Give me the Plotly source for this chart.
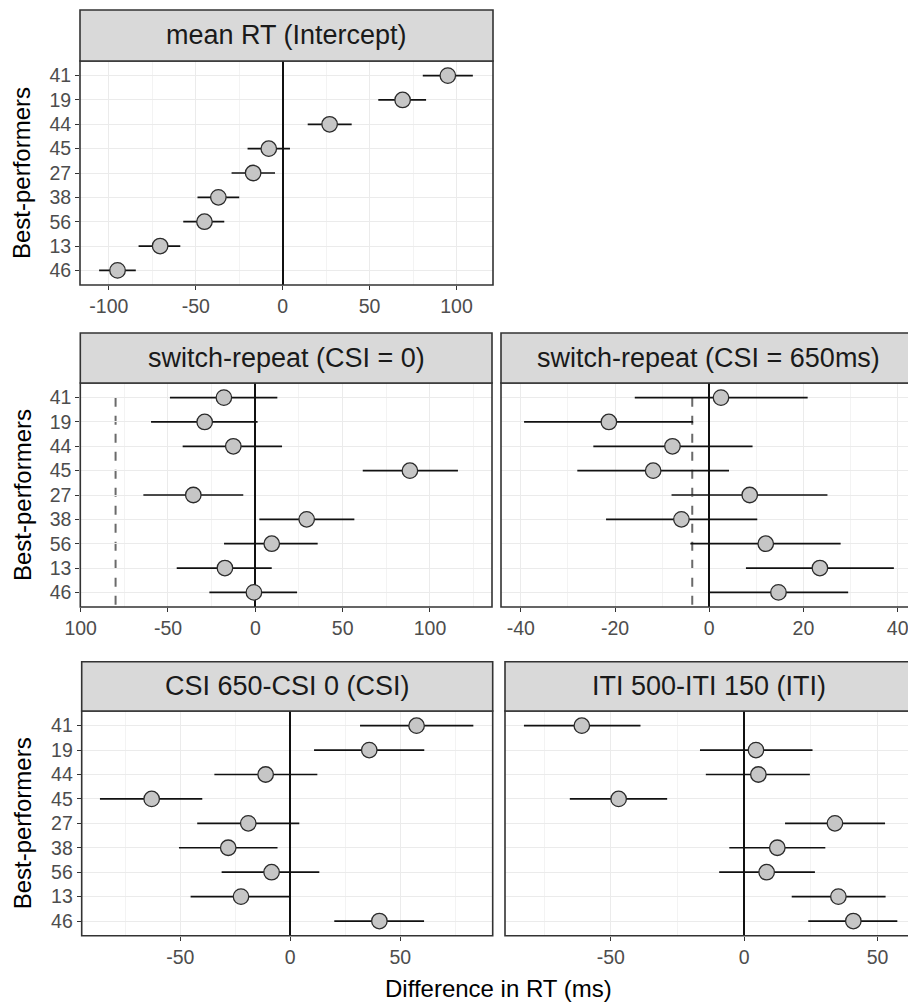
import math
import plotly.graph_objects as go

# ---------------- data ----------------
participants = ["41", "19", "44", "45", "27", "38", "56", "13", "46"]

mean_rt_est = [95, 69, 27, -8, -17, -37, -45, -70.5, -95]
mean_rt_lo = [80.6, 55, 14.4, -20.2, -29.4, -49, -57.2, -82.9, -105.6]
mean_rt_hi = [109.4, 82.5, 39.7, 4.2, -4.4, -25, -33.6, -58.9, -84.5]

sr0_est = [-18, -29, -12.6, 88.5, -35.5, 29.4, 9.4, -17.4, -0.8]
sr0_lo = [-48.9, -59.7, -41.6, 61.5, -64.1, 2.3, -17.9, -45, -26.3]
sr0_hi = [12.6, 1.3, 15.3, 116, -6.9, 56.7, 35.7, 9.4, 23.9]
sr0_ref = -80

sr650_est = [2.5, -21.3, -7.8, -11.9, 8.6, -5.9, 12, 23.5, 14.7]
sr650_lo = [-15.8, -39.3, -24.6, -28, -8, -21.9, -4, 7.8, -0.2]
sr650_hi = [20.9, -3.4, 9.2, 4.2, 25.1, 10.2, 27.9, 39.2, 29.5]
sr650_ref = -3.6

csi_est = [57.4, 35.9, -11.2, -63, -19.1, -28.2, -8.5, -22.4, 40.5]
csi_lo = [31.7, 10.8, -34.5, -86.5, -42.3, -50.6, -31.2, -45.3, 20]
csi_hi = [83.2, 60.9, 12.3, -40, 4.1, -5.8, 13.2, -0.2, 60.8]

iti_est = [-60.9, 4.4, 5.3, -47.1, 34, 12.4, 8.4, 35.3, 40.9]
iti_lo = [-82.6, -16.6, -14.4, -65.4, 15.3, -5.6, -9.4, 17.8, 24]
iti_hi = [-38.9, 25.6, 24.6, -28.9, 52.8, 30.4, 26.5, 53, 57.4]

titles = ["mean RT (Intercept)", "switch-repeat (CSI = 0)", "switch-repeat (CSI = 650ms)",
          "CSI 650-CSI 0 (CSI)", "ITI 500-ITI 150 (ITI)"]
y_title = "Best-performers"
x_title = "Difference in RT (ms)"

# ---------------- layout geometry (pixels) ----------------
W, H = 908, 1003
FONT = "Liberation Sans, Arial, Helvetica, sans-serif"


def fx(p):
    return p / W


def fy(p):
    return 1 - p / H


panels = [
    dict(est=mean_rt_est, lo=mean_rt_lo, hi=mean_rt_hi, ref=None,
         x0=80, x1=493, st=10, pt=61, pb=285, rng=[-116.6, 121.0], dtick=50, minor=25,
         ylab=True, relabel={}),
    dict(est=sr0_est, lo=sr0_lo, hi=sr0_hi, ref=sr0_ref,
         x0=80.3, x1=492, st=333, pt=383, pb=607, rng=[-100.2, 135.5], dtick=50, minor=25,
         ylab=True, relabel={-100: "100"}),
    dict(est=sr650_est, lo=sr650_lo, hi=sr650_hi, ref=sr650_ref,
         x0=501, x1=916, st=333, pt=383, pb=607, rng=[-44.2, 42.2], dtick=20, minor=10,
         ylab=False, relabel={}),
    dict(est=csi_est, lo=csi_lo, hi=csi_hi, ref=None,
         x0=81.7, x1=492.7, st=661.7, pt=711, pb=935.7, rng=[-94.8, 92.0], dtick=50, minor=25,
         ylab=True, relabel={}),
    dict(est=iti_est, lo=iti_lo, hi=iti_hi, ref=None,
         x0=505, x1=912, st=661.7, pt=711, pb=935.7, rng=[-89.7, 61.4], dtick=50, minor=25,
         ylab=False, relabel={}),
]

fig = go.Figure()
shapes = []
annotations = []

for i, p in enumerate(panels, start=1):
    sfx = "" if i == 1 else str(i)
    err_plus = [h - e for h, e in zip(p["hi"], p["est"])]
    err_minus = [e - l for e, l in zip(p["est"], p["lo"])]
    fig.add_trace(go.Scatter(
        x=p["est"], y=participants, mode="markers",
        xaxis="x" + sfx, yaxis="y" + sfx,
        error_x=dict(type="data", symmetric=False, array=err_plus, arrayminus=err_minus,
                     width=0, thickness=1.7, color="#111111"),
        marker=dict(size=15.5, color="#C6C6C6", line=dict(color="#2b2b2b", width=1.3)),
        showlegend=False, hoverinfo="x+y",
    ))

    x_dom = [fx(p["x0"]), min(fx(p["x1"]), 1.0)]
    y_dom = [fy(p["pb"]), fy(p["pt"])]

    # tick values / labels (ASCII hyphen for negatives, as in the original)
    vals, texts = [], []
    v = math.ceil(p["rng"][0] / p["dtick"]) * p["dtick"]
    while v <= p["rng"][1]:
        vals.append(v)
        texts.append(p["relabel"].get(v, f"{v:g}"))
        v += p["dtick"]

    xa = dict(domain=x_dom, range=p["rng"], anchor="y" + sfx, automargin=False,
              tickmode="array", tickvals=vals, ticktext=texts,
              showgrid=True, gridcolor="#EBEBEB", gridwidth=1.3,
              minor=dict(tickmode="linear", dtick=p["minor"], tick0=0, showgrid=True,
                         gridcolor="#F3F3F3", gridwidth=0.8),
              zeroline=True, zerolinecolor="#111111", zerolinewidth=1.7,
              showline=False, ticks="outside", ticklen=4, tickwidth=1.2, tickcolor="#333333",
              ticklabeloverflow="allow",
              tickfont=dict(family=FONT, size=19.5, color="#4D4D4D"),
              fixedrange=True)

    ya = dict(domain=y_dom, anchor="x" + sfx, type="category", automargin=False,
              categoryorder="array", categoryarray=participants,
              range=[len(participants) - 0.4, -0.6],
              showgrid=True, gridcolor="#EBEBEB", gridwidth=1.3,
              zeroline=False, showline=False, fixedrange=True,
              showticklabels=p["ylab"],
              ticks="outside" if p["ylab"] else "", ticklen=4, tickwidth=1.2, tickcolor="#333333",
              tickfont=dict(family=FONT, size=19.5, color="#4D4D4D"))

    fig.update_layout(**{"xaxis" + sfx: xa, "yaxis" + sfx: ya})

    # reference dashed line
    if p["ref"] is not None:
        shapes.append(dict(type="line", xref="x" + sfx, yref="y" + sfx + " domain",
                           x0=p["ref"], x1=p["ref"], y0=0.01, y1=0.965, layer="below",
                           line=dict(color="#6A6A6A", width=2, dash="9px,9px")))

    # panel border
    shapes.append(dict(type="rect", xref="paper", yref="paper",
                       x0=fx(p["x0"]), x1=fx(p["x1"]), y0=fy(p["pb"]), y1=fy(p["pt"]),
                       line=dict(color="#333333", width=1.6), fillcolor="rgba(0,0,0,0)",
                       layer="above"))
    # strip
    shapes.append(dict(type="rect", xref="paper", yref="paper",
                       x0=fx(p["x0"]), x1=fx(p["x1"]), y0=fy(p["pt"]), y1=fy(p["st"]),
                       line=dict(color="#333333", width=1.6), fillcolor="#D9D9D9",
                       layer="above"))
    annotations.append(dict(text=titles[i - 1], xref="paper", yref="paper",
                            x=fx((p["x0"] + p["x1"]) / 2), y=fy((p["st"] + p["pt"]) / 2),
                            xanchor="center", yanchor="middle", showarrow=False,
                            font=dict(family=FONT, size=27, color="#1A1A1A")))
    if p["ylab"]:
        annotations.append(dict(text=y_title, xref="paper", yref="paper",
                                x=fx(22), y=fy((p["pt"] + p["pb"]) / 2), textangle=-90,
                                xanchor="center", yanchor="middle", showarrow=False,
                                font=dict(family=FONT, size=24, color="#000000")))

annotations.append(dict(text=x_title, xref="paper", yref="paper",
                        x=fx(498), y=fy(988), xanchor="center", yanchor="middle",
                        showarrow=False, font=dict(family=FONT, size=24, color="#000000")))

fig.update_layout(
    width=W, height=H, margin=dict(l=0, r=0, t=0, b=0, autoexpand=False),
    paper_bgcolor="white", plot_bgcolor="white",
    shapes=shapes, annotations=annotations,
    font=dict(family=FONT),
    showlegend=False,
)

fig.write_html("out.html", config={"displayModeBar": False})
